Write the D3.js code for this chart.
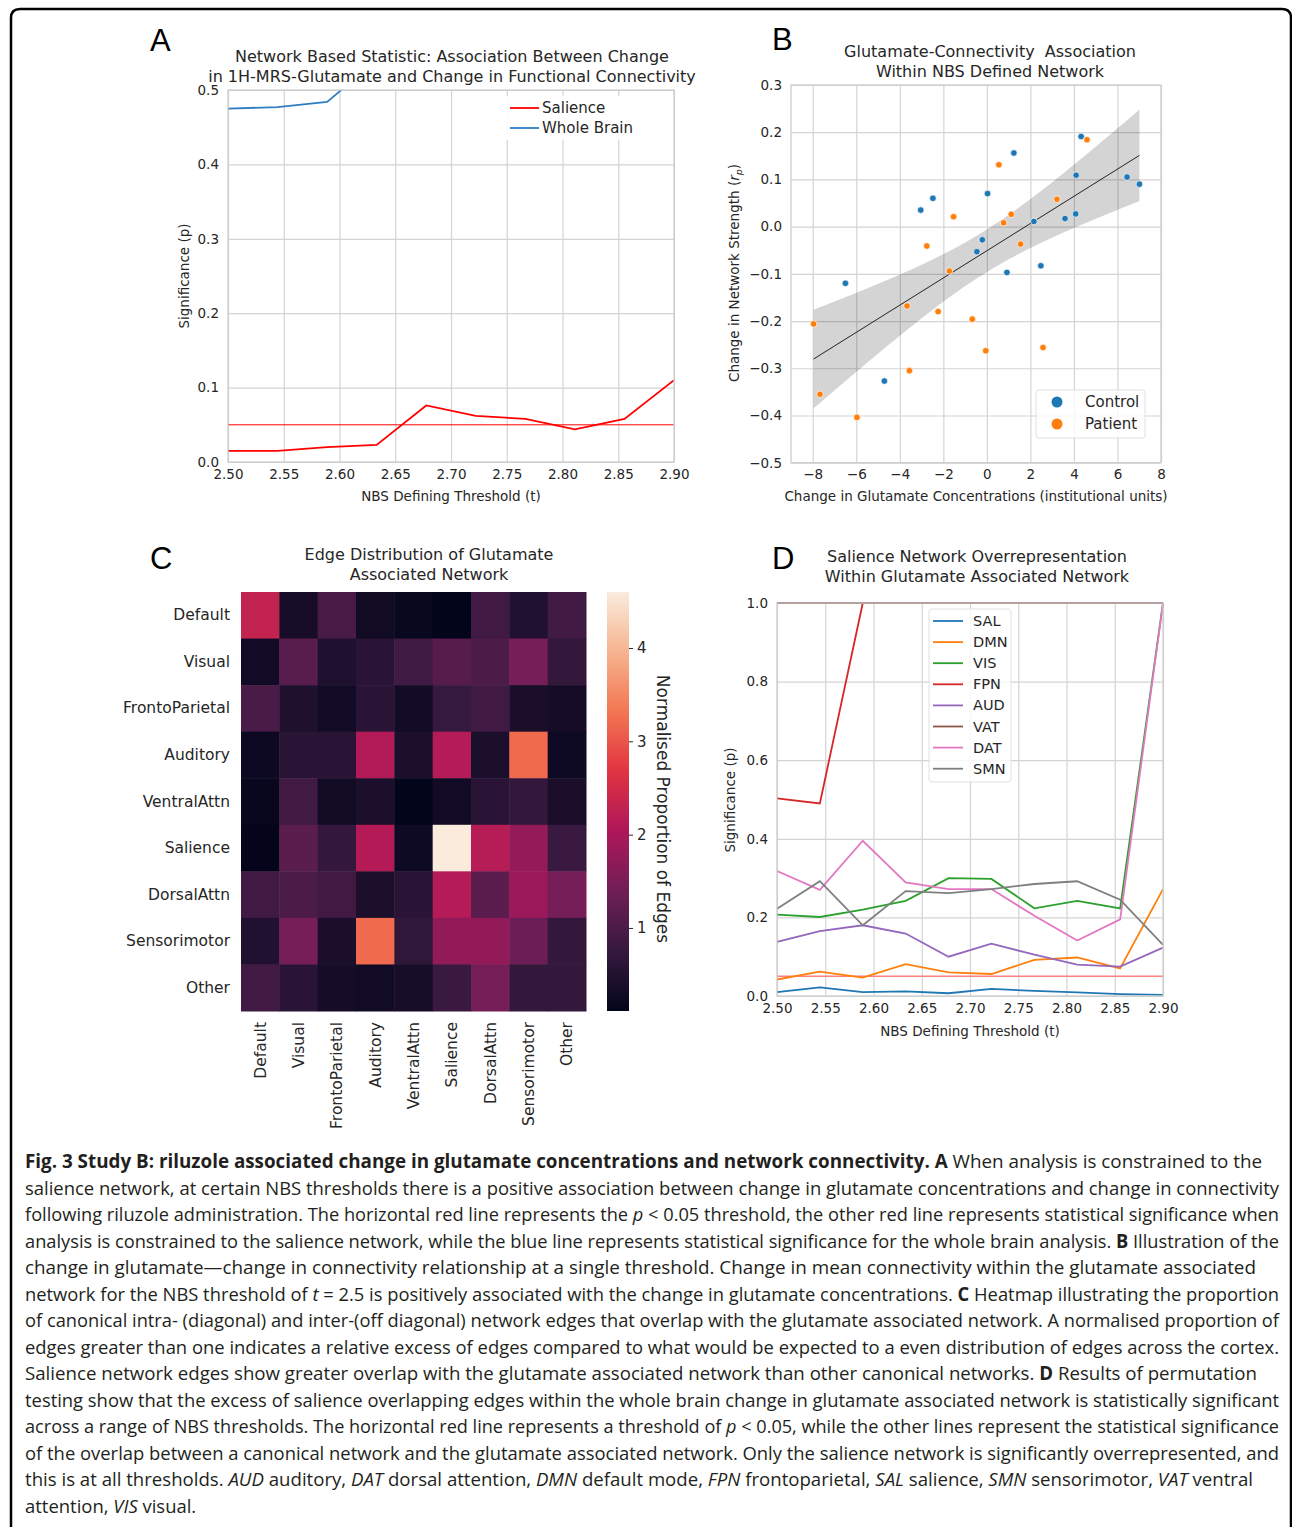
<!doctype html>
<html>
<head>
<meta charset="utf-8">
<title>Fig 3 Study B</title>
<script src="https://cdnjs.cloudflare.com/ajax/libs/d3/7.8.5/d3.min.js"></script>
<style>
  body { margin: 0; background: #fff; }
  svg text { font-family: "DejaVu Sans", sans-serif; fill: #262626; white-space: pre; }
  .grid line { stroke: #d4d4d4; stroke-width: 1.2; }
  .grid path { display: none; }
</style>
</head>
<body>
<svg id="fig" width="1292" height="1527"></svg>
<script>
// ---------- values ----------
var thresholds = [2.5, 2.5444, 2.5889, 2.6333, 2.6778, 2.7222, 2.7667, 2.8111, 2.8556, 2.9];

// panel A
var salienceP   = [0.015, 0.015, 0.020, 0.023, 0.076, 0.062, 0.058, 0.044, 0.058, 0.110];
var wholeBrainP = [0.475, 0.477, 0.484, 0.54, 0.60, 0.66, 0.70, 0.74, 0.78, 0.82];

// panel B
var controlX = [4.33, 1.24, 4.10, 6.44, 7.01, 0.03, -2.48, -3.04, 2.16, 3.59, 4.08, -0.21, -0.46, 0.92, 2.48, -6.50, -4.71];
var controlY = [0.191, 0.156, 0.109, 0.105, 0.090, 0.070, 0.060, 0.035, 0.011, 0.017, 0.027, -0.028, -0.053, -0.097, -0.083, -0.120, -0.327];
var patientX = [4.60, 0.55, 3.22, 1.12, 0.77, -1.53, -2.76, 1.55, -1.72, -3.67, -2.24, -0.67, -0.05, 2.58, -7.96, -3.56, -7.67, -5.97];
var patientY = [0.184, 0.131, 0.058, 0.026, 0.008, 0.021, -0.041, -0.037, -0.094, -0.168, -0.180, -0.196, -0.263, -0.256, -0.206, -0.305, -0.355, -0.404];

// panel C
var networks = ["Default", "Visual", "FrontoParietal", "Auditory", "VentralAttn", "Salience", "DorsalAttn", "Sensorimotor", "Other"];
var edgeRows = [
  [2.30, 0.38, 0.96, 0.29, 0.20, 0.11, 0.87, 0.50, 0.87],
  [0.30, 1.14, 0.46, 0.60, 0.86, 1.12, 1.00, 1.46, 0.72],
  [0.97, 0.47, 0.30, 0.60, 0.32, 0.75, 0.88, 0.40, 0.35],
  [0.25, 0.60, 0.60, 2.08, 0.42, 2.13, 0.42, 3.20, 0.27],
  [0.18, 0.87, 0.29, 0.42, 0.11, 0.30, 0.60, 0.72, 0.40],
  [0.12, 1.15, 0.72, 2.12, 0.27, 4.60, 2.15, 1.77, 0.80],
  [0.88, 1.00, 0.87, 0.42, 0.60, 2.13, 1.15, 1.85, 1.45],
  [0.50, 1.46, 0.40, 3.20, 0.68, 1.76, 1.76, 1.33, 0.72],
  [0.87, 0.60, 0.35, 0.30, 0.37, 0.80, 1.46, 0.72, 0.72]
];
var colorbarTicks = [1, 2, 3, 4];

// panel D
var overlapNames = ["SAL", "DMN", "VIS", "FPN", "AUD", "VAT", "DAT", "SMN"];
var salP = [0.010, 0.022, 0.010, 0.012, 0.007, 0.018, 0.013, 0.009, 0.005, 0.003];
var dmnP = [0.042, 0.062, 0.047, 0.081, 0.060, 0.056, 0.092, 0.098, 0.070, 0.272];
var visP = [0.207, 0.201, 0.220, 0.242, 0.300, 0.298, 0.223, 0.242, 0.223, 1.0];
var fpnP = [0.503, 0.490, 1.0, 1.0, 1.0, 1.0, 1.0, 1.0, 1.0, 1.0];
var audP = [0.138, 0.165, 0.180, 0.159, 0.100, 0.133, 0.105, 0.080, 0.075, 0.123];
var vatP = [1.0, 1.0, 1.0, 1.0, 1.0, 1.0, 1.0, 1.0, 1.0, 1.0];
var datP = [0.318, 0.270, 0.395, 0.289, 0.272, 0.272, 0.204, 0.141, 0.195, 1.0];
var smnP = [0.222, 0.292, 0.180, 0.267, 0.262, 0.272, 0.285, 0.292, 0.245, 0.130];
var overlapSeries = [salP, dmnP, visP, fpnP, audP, vatP, datP, smnP];
var tab10 = ["#1f77b4", "#ff7f0e", "#2ca02c", "#d62728", "#9467bd", "#8c564b", "#e377c2", "#7f7f7f"];

var svg = d3.select("#fig");
svg.append("rect").attr("width", 1292).attr("height", 1527).attr("fill", "#fff");

// figure frame
svg.append("path")
  .attr("d", "M11,1535 L11,18 Q11,9 20,9 L1282,9 Q1291,9 1291,18 L1291,1535")
  .attr("fill", "none").attr("stroke", "#000").attr("stroke-width", 2.5);

function panelLetter(t, x, y) {
  svg.append("text").attr("x", x).attr("y", y).text(t)
    .style("font-family", "'Liberation Sans', Arial, sans-serif")
    .style("font-size", "31px").style("fill", "#000");
}

function title(lines, cx, y0) {
  lines.forEach(function(l, i) {
    svg.append("text").attr("x", cx).attr("y", y0 + i * 20).attr("text-anchor", "middle")
      .style("font-size", "16px").text(l);
  });
}

// grid + ticks for a line/scatter panel
function frame(x, y, xt, yt, xf, yf) {
  var x0 = x.range()[0], x1 = x.range()[1], y0 = y.range()[0], y1 = y.range()[1];
  svg.append("g").attr("class", "grid").attr("transform", "translate(0," + y0 + ")")
    .call(d3.axisBottom(x).tickValues(xt).tickFormat(xf).tickSize(-(y0 - y1)).tickPadding(7))
    .selectAll("text").style("font-size", "13.5px").style("font-family", "'DejaVu Sans'");
  svg.append("g").attr("class", "grid").attr("transform", "translate(" + x0 + ",0)")
    .call(d3.axisLeft(y).tickValues(yt).tickFormat(yf).tickSize(-(x1 - x0)).tickPadding(9))
    .selectAll("text").style("font-size", "13.5px").style("font-family", "'DejaVu Sans'");
}
function spines(x, y) {
  var x0 = x.range()[0], x1 = x.range()[1], y0 = y.range()[0], y1 = y.range()[1];
  svg.append("rect").attr("x", x0).attr("y", y1).attr("width", x1 - x0).attr("height", y0 - y1)
    .attr("fill", "none").attr("stroke", "#cccccc").attr("stroke-width", 1.25);
}
function axisLabels(xl, xcx, xy, yl, ycx, ycy) {
  svg.append("text").attr("x", xcx).attr("y", xy).attr("text-anchor", "middle")
    .style("font-size", "13.5px").text(xl);
  if (yl) svg.append("text").attr("transform", "translate(" + ycx + "," + ycy + ") rotate(-90)")
    .attr("text-anchor", "middle").style("font-size", "13.5px").text(yl);
}

// ================= Panel A =================
(function() {
  panelLetter("A", 150, 51);
  title(["Network Based Statistic: Association Between Change",
         "in 1H-MRS-Glutamate and Change in Functional Connectivity"], 452, 62);
  var x = d3.scaleLinear().domain([2.5, 2.9]).range([228, 674]);
  var y = d3.scaleLinear().domain([0, 0.5]).range([462, 90]);
  frame(x, y, d3.range(2.5, 2.901, 0.05), d3.range(0, 0.501, 0.1), d3.format(".2f"), d3.format(".1f"));

  svg.append("clipPath").attr("id", "clipA").append("rect")
    .attr("x", 228).attr("y", 90).attr("width", 446).attr("height", 372);

  var line = d3.line().x(function(d, i) { return x(thresholds[i]); }).y(function(d) { return y(d); });
  var g = svg.append("g").attr("clip-path", "url(#clipA)");
  g.append("line").attr("x1", x(2.5)).attr("x2", x(2.9)).attr("y1", y(0.05)).attr("y2", y(0.05))
    .attr("stroke", "#ff0000").attr("stroke-width", 1);
  g.append("path").attr("d", line(salienceP)).attr("fill", "none").attr("stroke", "#ff0000").attr("stroke-width", 1.8);
  g.append("path").attr("d", line(wholeBrainP)).attr("fill", "none").attr("stroke", "#2f7ec4").attr("stroke-width", 1.8);
  spines(x, y);

  // legend
  svg.append("rect").attr("x", 505).attr("y", 96).attr("width", 136).attr("height", 44)
    .attr("rx", 3).attr("fill", "#fff").attr("opacity", 0.9);
  [["Salience", "#ff0000"], ["Whole Brain", "#2f7ec4"]].forEach(function(d, i) {
    var yy = 108 + i * 20;
    svg.append("line").attr("x1", 510).attr("x2", 539).attr("y1", yy).attr("y2", yy)
      .attr("stroke", d[1]).attr("stroke-width", 1.8);
    svg.append("text").attr("x", 542).attr("y", yy + 5).style("font-size", "15px").text(d[0]);
  });
  axisLabels("NBS Defining Threshold (t)", 451, 501, "Significance (p)", 189, 276);
})();

// ================= Panel B =================
(function() {
  panelLetter("B", 772, 50);
  title(["Glutamate-Connectivity  Association", "Within NBS Defined Network"], 990, 57);
  var x = d3.scaleLinear().domain([-9, 8]).range([791, 1161]);
  var y = d3.scaleLinear().domain([-0.5, 0.3]).range([462.7, 85]);
  frame(x, y, d3.range(-8, 8.01, 2), d3.range(-0.5, 0.301, 0.1), d3.format("d"), d3.format(".1f"));

  // pooled linear fit with interval of the mean
  var xs = controlX.concat(patientX), ys = controlY.concat(patientY), n = xs.length;
  var mx = d3.mean(xs), my = d3.mean(ys);
  var sxx = d3.sum(xs, function(v) { return (v - mx) * (v - mx); });
  var sxy = d3.sum(xs, function(v, i) { return (v - mx) * (ys[i] - my); });
  var b = sxy / sxx, a = my - b * mx;
  var s = Math.sqrt(d3.sum(xs, function(v, i) { var r = ys[i] - (a + b * v); return r * r; }) / (n - 2));
  var lo = d3.min(xs), hi = d3.max(xs);
  var grid = d3.range(0, 61).map(function(k) { return lo + (hi - lo) * k / 60; });
  function half(d) { return 2.03 * s * Math.sqrt(1 / n + (d - mx) * (d - mx) / sxx) * 1.12; }
  var band = d3.area()
    .x(function(d) { return x(d); })
    .y0(function(d) { return y(a + b * d - half(d)); })
    .y1(function(d) { return y(a + b * d + half(d)); });
  svg.append("path").attr("d", band(grid)).attr("fill", "#000").attr("opacity", 0.17);
  svg.append("line").attr("x1", x(lo)).attr("x2", x(hi)).attr("y1", y(a + b * lo)).attr("y2", y(a + b * hi))
    .attr("stroke", "#222").attr("stroke-width", 1);

  function dots(X, Y, c) {
    svg.append("g").selectAll("circle").data(X).enter().append("circle")
      .attr("cx", function(d) { return x(d); })
      .attr("cy", function(d, i) { return y(Y[i]); })
      .attr("r", 3.3).attr("fill", c).attr("stroke", "#fff").attr("stroke-width", 0.7);
  }
  dots(controlX, controlY, "#1f77b4");
  dots(patientX, patientY, "#ff7f0e");
  spines(x, y);

  svg.append("rect").attr("x", 1036).attr("y", 390).attr("width", 109).attr("height", 48)
    .attr("rx", 3).attr("fill", "#fff").attr("opacity", 0.85).attr("stroke", "#dddddd");
  [["Control", "#1f77b4"], ["Patient", "#ff7f0e"]].forEach(function(d, i) {
    var yy = 402 + i * 22;
    svg.append("circle").attr("cx", 1057).attr("cy", yy).attr("r", 5.5).attr("fill", d[1]);
    svg.append("text").attr("x", 1085).attr("y", yy + 5).style("font-size", "15px").text(d[0]);
  });

  svg.append("text").attr("x", 976).attr("y", 501).attr("text-anchor", "middle")
    .style("font-size", "13.5px").text("Change in Glutamate Concentrations (institutional units)");
  var yl = svg.append("text").attr("transform", "translate(739,273) rotate(-90)")
    .attr("text-anchor", "middle").style("font-size", "13.5px");
  yl.append("tspan").text("Change in Network Strength (");
  yl.append("tspan").style("font-style", "italic").text("r");
  yl.append("tspan").style("font-style", "italic").style("font-size", "9.5px").attr("dy", 3).text("p");
  yl.append("tspan").attr("dy", -3).text(")");
})();

// ================= Panel C =================
(function() {
  panelLetter("C", 150, 569);
  title(["Edge Distribution of Glutamate", "Associated Network"], 429, 560);
  var x = d3.scaleBand().domain(networks).range([241, 586]);
  var y = d3.scaleBand().domain(networks).range([592, 1011]);
  var flat = d3.merge(edgeRows);
  var ext = d3.extent(flat);
  var rocket = ["#03051a", "#35193e", "#701f57", "#ad1759", "#e13342", "#f37651", "#f6b48f", "#faebdd"];
  var color = d3.scaleLinear()
    .domain(rocket.map(function(c, i) { return ext[0] + (ext[1] - ext[0]) * i / (rocket.length - 1); }))
    .range(rocket).interpolate(d3.interpolateRgb);

  edgeRows.forEach(function(row, r) {
    svg.append("g").selectAll("rect").data(row).enter().append("rect")
      .attr("x", function(d, c) { return x(networks[c]); })
      .attr("y", y(networks[r]))
      .attr("width", x.bandwidth() + 0.5).attr("height", y.bandwidth() + 0.5)
      .attr("fill", function(d) { return color(d); });
  });

  networks.forEach(function(nm) {
    svg.append("text").attr("x", 230).attr("y", y(nm) + y.bandwidth() / 2 + 5)
      .attr("text-anchor", "end").style("font-size", "15.5px").text(nm);
    svg.append("text")
      .attr("transform", "translate(" + (x(nm) + x.bandwidth() / 2 + 5.5) + ",1022) rotate(-90)")
      .attr("text-anchor", "end").style("font-size", "15.5px").text(nm);
  });

  // colour bar
  var cb = d3.scaleLinear().domain(ext).range([1011, 592]);
  var grad = svg.append("defs").append("linearGradient").attr("id", "rocketGrad")
    .attr("x1", 0).attr("y1", 1).attr("x2", 0).attr("y2", 0);
  d3.range(0, 41).forEach(function(k) {
    grad.append("stop").attr("offset", k / 40)
      .attr("stop-color", color(ext[0] + (ext[1] - ext[0]) * k / 40));
  });
  svg.append("rect").attr("x", 607).attr("y", 592).attr("width", 22).attr("height", 419)
    .attr("fill", "url(#rocketGrad)");
  var ax = svg.append("g").attr("transform", "translate(629,0)")
    .call(d3.axisRight(cb).tickValues(colorbarTicks).tickFormat(d3.format("d")).tickSize(4).tickPadding(4));
  ax.select(".domain").remove();
  ax.selectAll("line").attr("stroke", "#262626");
  ax.selectAll("text").style("font-size", "15px").style("font-family", "'DejaVu Sans'");
  svg.append("text").attr("transform", "translate(657,809) rotate(90)").attr("text-anchor", "middle")
    .style("font-size", "17px").text("Normalised Proportion of Edges");
})();

// ================= Panel D =================
(function() {
  panelLetter("D", 772, 569);
  title(["Salience Network Overrepresentation", "Within Glutamate Associated Network"], 977, 562);
  var x = d3.scaleLinear().domain([2.5, 2.9]).range([777, 1163]);
  var y = d3.scaleLinear().domain([0, 1]).range([996, 603]);
  frame(x, y, d3.range(2.5, 2.901, 0.05), d3.range(0, 1.001, 0.2), d3.format(".2f"), d3.format(".1f"));

  var line = d3.line().x(function(d, i) { return x(thresholds[i]); }).y(function(d) { return y(d); });
  svg.append("line").attr("x1", x(2.5)).attr("x2", x(2.9)).attr("y1", y(0.05)).attr("y2", y(0.05))
    .attr("stroke", "#ff8080").attr("stroke-width", 1.5);
  overlapSeries.forEach(function(s, i) {
    svg.append("path").attr("d", line(s)).attr("fill", "none")
      .attr("stroke", tab10[i]).attr("stroke-width", 1.8);
  });
  spines(x, y);

  svg.append("rect").attr("x", 929).attr("y", 609).attr("width", 82).attr("height", 173)
    .attr("rx", 3).attr("fill", "#fff").attr("opacity", 0.85).attr("stroke", "#dddddd");
  overlapNames.forEach(function(nm, i) {
    var yy = 621 + i * 21.1;
    svg.append("line").attr("x1", 933).attr("x2", 963).attr("y1", yy).attr("y2", yy)
      .attr("stroke", tab10[i]).attr("stroke-width", 1.8);
    svg.append("text").attr("x", 973).attr("y", yy + 5).style("font-size", "14.5px").text(nm);
  });
  axisLabels("NBS Defining Threshold (t)", 970, 1036, "Significance (p)", 735, 800);
})();

// ================= Caption =================
var captionLines = [
  [["b", "Fig. 3 Study B: riluzole associated change in glutamate concentrations and network connectivity. A"], ["", " When analysis is constrained to the"]],
  [["", "salience network, at certain NBS thresholds there is a positive association between change in glutamate concentrations and change in connectivity"]],
  [["", "following riluzole administration. The horizontal red line represents the "], ["i", "p"], ["", " < 0.05 threshold, the other red line represents statistical significance when"]],
  [["", "analysis is constrained to the salience network, while the blue line represents statistical significance for the whole brain analysis. "], ["b", "B"], ["", " Illustration of the"]],
  [["", "change in glutamate\u2014change in connectivity relationship at a single threshold. Change in mean connectivity within the glutamate associated"]],
  [["", "network for the NBS threshold of "], ["i", "t"], ["", " = 2.5 is positively associated with the change in glutamate concentrations. "], ["b", "C"], ["", " Heatmap illustrating the proportion"]],
  [["", "of canonical intra- (diagonal) and inter-(off diagonal) network edges that overlap with the glutamate associated network. A normalised proportion of"]],
  [["", "edges greater than one indicates a relative excess of edges compared to what would be expected to a even distribution of edges across the cortex."]],
  [["", "Salience network edges show greater overlap with the glutamate associated network than other canonical networks. "], ["b", "D"], ["", " Results of permutation"]],
  [["", "testing show that the excess of salience overlapping edges within the whole brain change in glutamate associated network is statistically significant"]],
  [["", "across a range of NBS thresholds. The horizontal red line represents a threshold of "], ["i", "p"], ["", " < 0.05, while the other lines represent the statistical significance"]],
  [["", "of the overlap between a canonical network and the glutamate associated network. Only the salience network is significantly overrepresented, and"]],
  [["", "this is at all thresholds. "], ["i", "AUD"], ["", " auditory, "], ["i", "DAT"], ["", " dorsal attention, "], ["i", "DMN"], ["", " default mode, "], ["i", "FPN"], ["", " frontoparietal, "], ["i", "SAL"], ["", " salience, "], ["i", "SMN"], ["", " sensorimotor, "], ["i", "VAT"], ["", " ventral"]],
  [["", "attention, "], ["i", "VIS"], ["", " visual."]]
];
var captionEnds = [1262, 1279, 1279, 1279, 1256, 1279, 1279, 1279, 1257, 1279, 1279, 1279, 1253, null];

var ratios = [];
captionLines.forEach(function(segs, i) {
  var t = svg.append("text").attr("x", 25).attr("y", 1168 + i * 26.5)
    .style("font-family", "'Open Sans', sans-serif").style("font-size", "19px").style("fill", "#231f20");
  segs.forEach(function(s) {
    var sp = t.append("tspan").text(s[1]);
    if (s[0] === "b") sp.style("font-weight", "bold");
    if (s[0] === "i") sp.style("font-style", "italic");
  });
  var w = t.node().getComputedTextLength();
  var target = captionEnds[i] ? captionEnds[i] - 25 : w * d3.mean(ratios);
  ratios.push(target / w);
  t.attr("textLength", target).attr("lengthAdjust", "spacingAndGlyphs");
});
</script>
</body>
</html>
